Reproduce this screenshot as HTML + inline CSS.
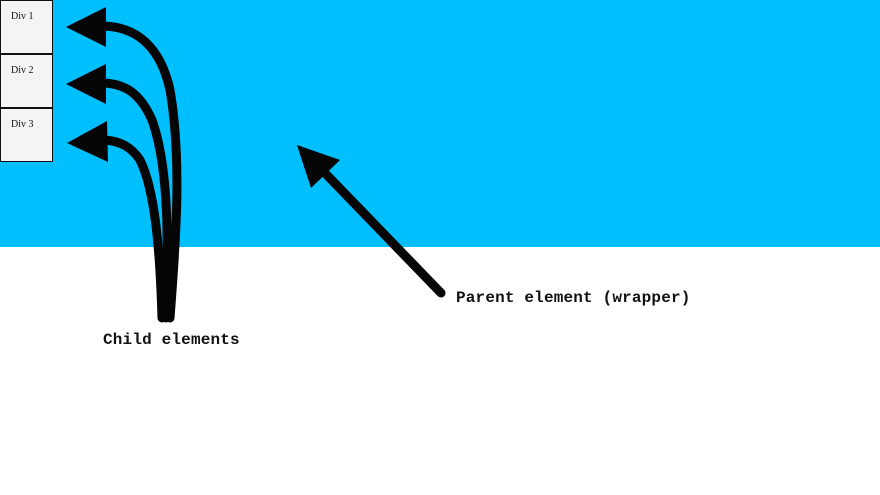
<!DOCTYPE html>
<html><head><meta charset="utf-8"><style>
html,body{margin:0;padding:0;width:880px;height:495px;background:#fff;overflow:hidden;position:relative}
.wrap{position:absolute;left:0;top:0;width:880px;height:247px;background:#00BFFF}
.box{position:absolute;left:0;width:51px;height:52px;background:#f4f4f4;border:1px solid #111;font-family:"Liberation Serif",serif;font-size:10px;color:#111}
.box span{position:absolute;left:10px;top:10px}
.lbl{position:absolute;font-family:"Liberation Mono",monospace;font-weight:bold;font-size:16px;letter-spacing:0.17px;color:#111;white-space:nowrap}
svg{position:absolute;left:0;top:0}
</style></head><body>
<div class="wrap"></div>
<div class="box" style="top:0"><span>Div 1</span></div>
<div class="box" style="top:54px"><span>Div 2</span></div>
<div class="box" style="top:108px"><span>Div 3</span></div>
<svg width="880" height="495">
<g fill="none" stroke="#050505" stroke-width="9" stroke-linecap="round">
<path d="M170 318 C 176 240, 182 160, 170 90 C 160 45, 135 27, 104 26"/>
<path d="M166 318 C 168 250, 170 170, 152 120 C 140 93, 125 84, 104 83"/>
<path d="M162 318 C 160 250, 155 190, 140 160 C 130 145, 118 141, 104 140"/>
<path d="M441 293 L 322 170"/>
</g>
<g fill="#050505">
<polygon points="66,27 106,7 106,47"/>
<polygon points="66,84 106,64 106,104"/>
<polygon points="67,143 107,121 108,162"/>
<polygon points="297,145 340,160 311,188"/>
</g>
</svg>
<div class="lbl" style="left:456px;top:289px">Parent element (wrapper)</div>
<div class="lbl" style="left:103px;top:331px">Child elements</div>
</body></html>
